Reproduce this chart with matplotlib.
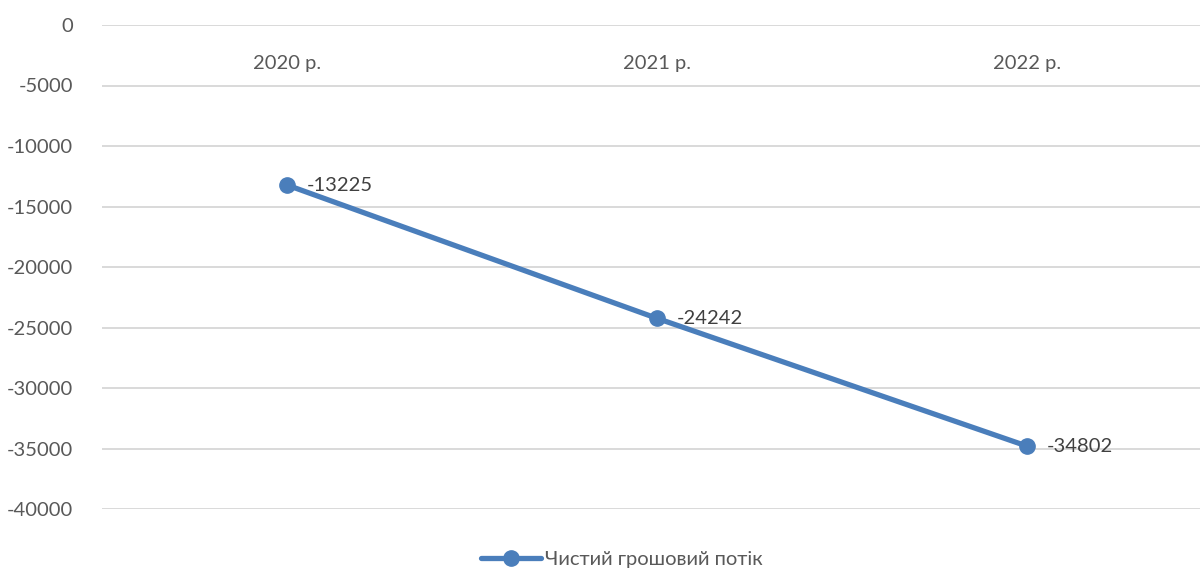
import matplotlib.pyplot as plt

# дані: чистий грошовий потік за роками
roky = ['2020 р.', '2021 р.', '2022 р.']
potik = [-13225, -24242, -34802]
yticks = [0, -5000, -10000, -15000, -20000, -25000, -30000, -35000, -40000]

plt.rcParams['font.family'] = ['Lato', 'DejaVu Sans']
tekst = '#595959'
kolir = '#4A7EBB'
fs = 14.5

fig = plt.figure(figsize=(12, 5.69), dpi=100)
ax = fig.add_axes([102 / 1200, 60 / 569, 1110 / 1200, 484 / 569])

x = list(range(len(roky)))
ax.plot(x, potik, color=kolir, lw=3.8, marker='o', ms=11,
        solid_capstyle='round', label='Чистий грошовий потік', zorder=3)

for xi, v in zip(x, potik):
    ax.annotate(str(v), (xi, v), xytext=(14, 0), textcoords='offset points',
                va='center', ha='left', fontsize=fs, color='#404040')

ax.set_xlim(-0.5, 2.5)
ax.set_ylim(-40000, 0)
ax.set_yticks(yticks)
ax.set_yticklabels([str(t) for t in yticks], fontsize=fs, color=tekst)
ax.set_xticks(x)
ax.set_xticklabels(roky, fontsize=fs, color=tekst)
ax.xaxis.tick_top()
ax.tick_params(axis='x', length=0, pad=-34)
ax.tick_params(axis='y', length=0, pad=21)
ax.grid(axis='y', color='#D9D9D9', lw=1.4)
ax.set_axisbelow(True)
for s in ax.spines.values():
    s.set_visible(False)

fig.legend(loc='lower center', bbox_to_anchor=(0.518, -0.03), frameon=False,
           fontsize=fs, labelcolor=tekst, handlelength=3.0, handletextpad=0.15)

fig.savefig('out.png', dpi=100)
